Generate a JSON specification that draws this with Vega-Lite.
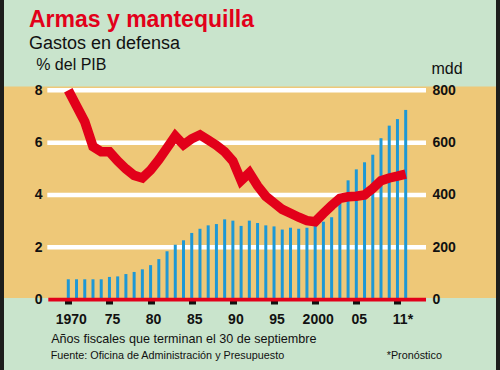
{
  "$schema": "https://vega.github.io/schema/vega-lite/v6.json",
  "width": 492,
  "height": 370,
  "autosize": {"type": "none"},
  "padding": {"left": 4, "right": 4, "top": 0, "bottom": 0},
  "background": "#1d1d1b",
  "config": {
    "font": "Liberation Sans",
    "view": {"fill": "#c9e4cc", "stroke": null},
    "axis": {"labelFont": "Liberation Sans", "titleFont": "Liberation Sans"}
  },
  "title": {
    "text": "Armas y mantequilla",
    "subtitle": "Gastos en defensa",
    "anchor": "start",
    "frame": "group",
    "orient": "top",
    "font": "Liberation Sans",
    "fontSize": 23,
    "fontWeight": "bold",
    "color": "#e2001a",
    "subtitleFont": "Liberation Sans",
    "subtitleFontSize": 18,
    "subtitleColor": "#111111",
    "subtitlePadding": 3,
    "dx": 25,
    "dy": 57
  },
  "data": {
    "values": [
      {"year": 1970, "pct": 8.0, "mdd": 78},
      {"year": 1971, "pct": 7.4, "mdd": 78},
      {"year": 1972, "pct": 6.8, "mdd": 78},
      {"year": 1973, "pct": 5.85, "mdd": 78},
      {"year": 1974, "pct": 5.65, "mdd": 78},
      {"year": 1975, "pct": 5.65, "mdd": 87},
      {"year": 1976, "pct": 5.3, "mdd": 89},
      {"year": 1977, "pct": 5.0, "mdd": 98},
      {"year": 1978, "pct": 4.75, "mdd": 106},
      {"year": 1979, "pct": 4.65, "mdd": 116},
      {"year": 1980, "pct": 4.95, "mdd": 132},
      {"year": 1981, "pct": 5.35, "mdd": 155},
      {"year": 1982, "pct": 5.8, "mdd": 185},
      {"year": 1983, "pct": 6.25, "mdd": 210},
      {"year": 1984, "pct": 5.92, "mdd": 227},
      {"year": 1985, "pct": 6.15, "mdd": 255},
      {"year": 1986, "pct": 6.3, "mdd": 271},
      {"year": 1987, "pct": 6.1, "mdd": 284},
      {"year": 1988, "pct": 5.9, "mdd": 289},
      {"year": 1989, "pct": 5.65, "mdd": 307},
      {"year": 1990, "pct": 5.3, "mdd": 302},
      {"year": 1991, "pct": 4.55, "mdd": 282},
      {"year": 1992, "pct": 4.85, "mdd": 302},
      {"year": 1993, "pct": 4.35, "mdd": 293},
      {"year": 1994, "pct": 3.95, "mdd": 284},
      {"year": 1995, "pct": 3.7, "mdd": 280},
      {"year": 1996, "pct": 3.45, "mdd": 268},
      {"year": 1997, "pct": 3.3, "mdd": 275},
      {"year": 1998, "pct": 3.15, "mdd": 271},
      {"year": 1999, "pct": 3.02, "mdd": 275},
      {"year": 2000, "pct": 2.98, "mdd": 288},
      {"year": 2001, "pct": 3.3, "mdd": 298},
      {"year": 2002, "pct": 3.6, "mdd": 315},
      {"year": 2003, "pct": 3.87, "mdd": 403},
      {"year": 2004, "pct": 3.93, "mdd": 456},
      {"year": 2005, "pct": 3.95, "mdd": 498},
      {"year": 2006, "pct": 4.0, "mdd": 525},
      {"year": 2007, "pct": 4.25, "mdd": 554},
      {"year": 2008, "pct": 4.55, "mdd": 617},
      {"year": 2009, "pct": 4.65, "mdd": 665},
      {"year": 2010, "pct": 4.72, "mdd": 690},
      {"year": 2011, "pct": 4.8, "mdd": 725}
    ]
  },
  "layer": [
    {
      "data": {"values": [{"banda": "fondo"}]},
      "mark": {"type": "rect", "color": "#eec878", "clip": true},
      "encoding": {
        "x": {"datum": 1950, "type": "quantitative", "scale": {"domain": [1962.186, 2021.975], "nice": false, "zero": false, "padding": 0}, "axis": null},
        "x2": {"datum": 2035},
        "y": {"datum": 8.145, "type": "quantitative", "scale": {"domain": [-2.686, 11.45], "nice": false, "zero": false}, "axis": null},
        "y2": {"datum": 0.065}
      }
    },
    {
      "data": {"values": [{"v": 2}, {"v": 4}, {"v": 6}, {"v": 8}]},
      "mark": {"type": "rule", "color": "#ffffff", "strokeWidth": 4.5},
      "encoding": {
        "x": {"datum": 1967.45, "type": "quantitative", "scale": {"domain": [1962.186, 2021.975], "nice": false, "zero": false, "padding": 0}, "axis": null},
        "x2": {"datum": 2013.47},
        "y": {
          "field": "v", "type": "quantitative",
          "scale": {"domain": [-2.686, 11.45], "nice": false, "zero": false},
          "axis": {
            "orient": "left", "values": [0, 2, 4, 6, 8], "title": "% del PIB",
            "zindex": 1, "domain": false, "ticks": false, "grid": false,
            "labelPadding": -38, "labelAlign": "right", "labelBaseline": "middle",
            "labelFontSize": 14, "labelFontWeight": "bold", "labelColor": "#111111", "labelFlush": false,
            "titleX": 31.7, "titleY": 69, "titleAngle": 0, "titleAlign": "left", "titleBaseline": "alphabetic",
            "titleFontSize": 16, "titleFontWeight": "normal", "titleColor": "#111111"
          }
        }
      }
    },
    {
      "mark": {"type": "bar", "color": "#1e98d5", "size": 3},
      "encoding": {
        "x": {
          "field": "year", "type": "quantitative",
          "scale": {"domain": [1962.186, 2021.975], "nice": false, "zero": false, "padding": 0},
          "axis": {
            "orient": "bottom", "offset": -72, "zindex": 0,
            "values": [1970, 1975, 1980, 1985, 1990, 1995, 2000, 2005, 2010],
            "labelExpr": "datum.value == 1970 || datum.value == 2000 ? toString(datum.value) : datum.value == 2010 ? '11*' : substring(toString(datum.value), 2)",
            "domain": false, "grid": false, "ticks": true, "tickSize": 6, "tickWidth": 7, "tickColor": "#111111",
            "labelPadding": 8, "labelFontSize": 14, "labelFontWeight": "bold", "labelColor": "#111111", "labelFlush": false,
            "labelOffset": {"condition": {"test": "datum.value == 2010", "value": 5}, "value": 2.5},
            "title": "Años fiscales que terminan el 30 de septiembre",
            "titleX": 46.7, "titleY": 44, "titleAlign": "left", "titleBaseline": "alphabetic",
            "titleFontSize": 12.6, "titleFontWeight": "normal", "titleColor": "#111111"
          }
        },
        "y": {
          "field": "mdd", "type": "quantitative",
          "scale": {"domain": [-268.6, 1145], "nice": false, "zero": false},
          "axis": {
            "orient": "right", "values": [0, 200, 400, 600, 800], "title": "mdd",
            "zindex": 1, "domain": false, "ticks": false, "grid": false,
            "labelPadding": -64, "labelAlign": "left", "labelBaseline": "middle",
            "labelFontSize": 14, "labelFontWeight": "bold", "labelColor": "#111111", "labelFlush": false,
            "titleX": -65, "titleY": 73.5, "titleAngle": 0, "titleAlign": "left", "titleBaseline": "alphabetic",
            "titleFontSize": 16, "titleFontWeight": "normal", "titleColor": "#111111"
          }
        }
      }
    },
    {
      "mark": {"type": "line", "color": "#e2001a", "strokeWidth": 9.5, "strokeJoin": "miter"},
      "encoding": {
        "x": {"field": "year", "type": "quantitative", "scale": {"domain": [1962.186, 2021.975], "nice": false, "zero": false, "padding": 0}, "axis": null},
        "y": {"field": "pct", "type": "quantitative", "scale": {"domain": [-2.686, 11.45], "nice": false, "zero": false}, "axis": null}
      }
    },
    {
      "data": {"values": [{"base": 0}]},
      "mark": {"type": "rule", "color": "#e2001a", "strokeWidth": 3.8},
      "encoding": {
        "x": {"datum": 1967.57, "type": "quantitative", "scale": {"domain": [1962.186, 2021.975], "nice": false, "zero": false, "padding": 0}, "axis": null},
        "x2": {"datum": 2013.47},
        "y": {"field": "base", "type": "quantitative", "scale": {"domain": [-2.686, 11.45], "nice": false, "zero": false}, "axis": null}
      }
    },
    {
      "data": {"values": [{"nota": "Fuente: Oficina de Administración y Presupuesto"}]},
      "mark": {"type": "text", "align": "left", "baseline": "alphabetic", "fontSize": 10.8, "color": "#111111"},
      "encoding": {
        "text": {"field": "nota"},
        "x": {"datum": 1967.86, "type": "quantitative", "scale": {"domain": [1962.186, 2021.975], "nice": false, "zero": false, "padding": 0}, "axis": null},
        "y": {"datum": -2.266, "type": "quantitative", "scale": {"domain": [-2.686, 11.45], "nice": false, "zero": false}, "axis": null}
      }
    },
    {
      "data": {"values": [{"nota": "*Pronóstico"}]},
      "mark": {"type": "text", "align": "left", "baseline": "alphabetic", "fontSize": 10.8, "color": "#111111"},
      "encoding": {
        "text": {"field": "nota"},
        "x": {"datum": 2008.69, "type": "quantitative", "scale": {"domain": [1962.186, 2021.975], "nice": false, "zero": false, "padding": 0}, "axis": null},
        "y": {"datum": -2.266, "type": "quantitative", "scale": {"domain": [-2.686, 11.45], "nice": false, "zero": false}, "axis": null}
      }
    }
  ],
  "resolve": {"scale": {"y": "independent"}, "axis": {"x": "independent", "y": "independent"}}
}
